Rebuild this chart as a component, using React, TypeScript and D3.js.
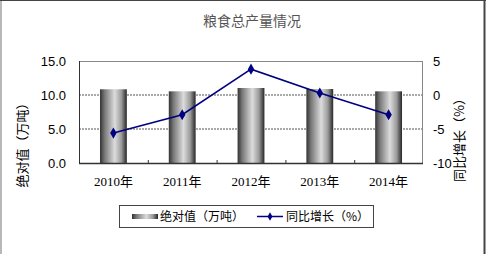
import React from "react";
import * as d3 from "d3";

const categories = ["2010年", "2011年", "2012年", "2013年", "2014年"];
const absValues = [10.84, 10.54, 11.03, 10.88, 10.54];
const yoyValues = [-5.6, -2.9, 3.8, 0.3, -2.9];
const leftTicks = [0, 5, 10, 15];
const rightTicks = [-10, -5, 0, 5];
const title = "粮食总产量情况";
const leftTitle = "绝对值（万吨）";
const rightTitle = "同比增长（%）";
const legendBar = "绝对值（万吨）";
const legendLine = "同比增长（%）";

const W = 487;
const H = 254;
const plot = { left: 79, right: 423, top: 61, bottom: 163 };

export default function App() {
  const x = d3.scaleBand<string>().domain(categories).range([plot.left, plot.right]).paddingInner(0.61).paddingOuter(0.305);
  const yL = d3.scaleLinear().domain([0, 15]).range([plot.bottom, plot.top]);
  const yR = d3.scaleLinear().domain([-10, 5]).range([plot.bottom, plot.top]);
  const step = x.step();
  const cx = (c: string) => (x(c) as number) + x.bandwidth() / 2;
  const line = d3
    .line<number>()
    .x((_, i) => cx(categories[i]))
    .y((d) => yR(d));
  const diamond = d3.symbol().type(d3.symbolDiamond).size(36)();
  const cjk = "'Noto Sans CJK SC', sans-serif";
  const num = "'Liberation Sans', Arial, sans-serif";
  const serif = "'Liberation Serif', 'Noto Sans CJK SC', serif";

  return (
    <svg width={W} height={H} style={{ position: "absolute", left: 0, top: 0, background: "#fff" }}>
      <defs>
        <linearGradient id="barGrad" x1="0" x2="1" y1="0" y2="0">
          <stop offset="0%" stopColor="#333" />
          <stop offset="18%" stopColor="#7a7a7a" />
          <stop offset="55%" stopColor="#dcdcdc" />
          <stop offset="80%" stopColor="#9a9a9a" />
          <stop offset="100%" stopColor="#262626" />
        </linearGradient>
      </defs>
      {/* outer frame */}
      <rect x={0} y={0} width={2} height={H} fill="#b8b8b8" />
      <line x1={0} x2={486} y1={0.5} y2={0.5} stroke="#444" strokeWidth={1} />
      <line x1={484.5} x2={484.5} y1={0} y2={H} stroke="#444" strokeWidth={2} />

      <text x={252} y={26} textAnchor="middle" fontSize={14} fill="#555" fontFamily={cjk}>
        {title}
      </text>

      {/* grid */}
      {leftTicks
        .filter((t) => t > 0 && t < 15)
        .map((t) => (
          <line key={t} x1={plot.left} x2={plot.right} y1={yL(t)} y2={yL(t)} stroke="#555" strokeDasharray="2,1" strokeWidth={1} />
        ))}
      {/* plot frame */}
      <line x1={plot.left} x2={plot.right} y1={plot.top + 0.5} y2={plot.top + 0.5} stroke="#888" />
      <line x1={plot.right - 0.5} x2={plot.right - 0.5} y1={plot.top} y2={plot.bottom} stroke="#888" />

      {/* bars */}
      {categories.map((c, i) => (
        <rect key={c} x={x(c)} y={yL(absValues[i])} width={x.bandwidth()} height={plot.bottom - yL(absValues[i])} fill="url(#barGrad)" />
      ))}

      {/* axes */}
      <line x1={plot.left + 0.5} x2={plot.left + 0.5} y1={plot.top} y2={plot.bottom} stroke="#333" />
      <line x1={plot.left} x2={plot.right} y1={plot.bottom + 0.5} y2={plot.bottom + 0.5} stroke="#333" strokeWidth={1.5} />
      {d3.range(1, categories.length).map((i) => (
        <line key={i} x1={plot.left + step * i + 0.5} x2={plot.left + step * i + 0.5} y1={plot.bottom - 3} y2={plot.bottom} stroke="#333" />
      ))}

      {leftTicks.map((t) => (
        <text key={t} x={66} y={yL(t) + 5} textAnchor="end" fontSize={13} fontFamily={num} fill="#000">
          {t.toFixed(1)}
        </text>
      ))}
      {rightTicks.map((t) => (
        <text key={t} x={433} y={yR(t) + 5} textAnchor="start" fontSize={13} fontFamily={num} fill="#000">
          {t}
        </text>
      ))}
      {categories.map((c) => (
        <text key={c} x={cx(c)} y={186} textAnchor="middle" fontSize={13} fontFamily={serif} fill="#000">
          {c}
        </text>
      ))}

      <text transform={`translate(27,142) rotate(-90)`} textAnchor="middle" fontSize={13} fontFamily={cjk} fill="#000">
        {leftTitle}
      </text>
      <text transform={`translate(464,137) rotate(-90)`} textAnchor="middle" fontSize={13} fontFamily={cjk} fill="#000">
        {rightTitle}
      </text>

      {/* line */}
      <path d={line(yoyValues) as string} fill="none" stroke="#000080" strokeWidth={1.6} />
      {yoyValues.map((v, i) => (
        <path key={i} d={diamond as string} transform={`translate(${cx(categories[i])},${yR(v)})`} fill="#000080" />
      ))}

      {/* legend */}
      <rect x={119.5} y={205.5} width={254} height={22} fill="#fff" stroke="#444" />
      <rect x={132} y={214} width={26} height={5} fill="url(#barGrad)" />
      <text x={160} y={221} fontSize={12} fontFamily={cjk} fill="#000">
        {legendBar}
      </text>
      <line x1={257} x2={283} y1={216.5} y2={216.5} stroke="#000080" strokeWidth={1.5} />
      <path d={d3.symbol().type(d3.symbolDiamond).size(20)() as string} transform="translate(270,216.5)" fill="#000080" />
      <text x={286} y={221} fontSize={12} fontFamily={cjk} fill="#000">
        {legendLine}
      </text>
    </svg>
  );
}
